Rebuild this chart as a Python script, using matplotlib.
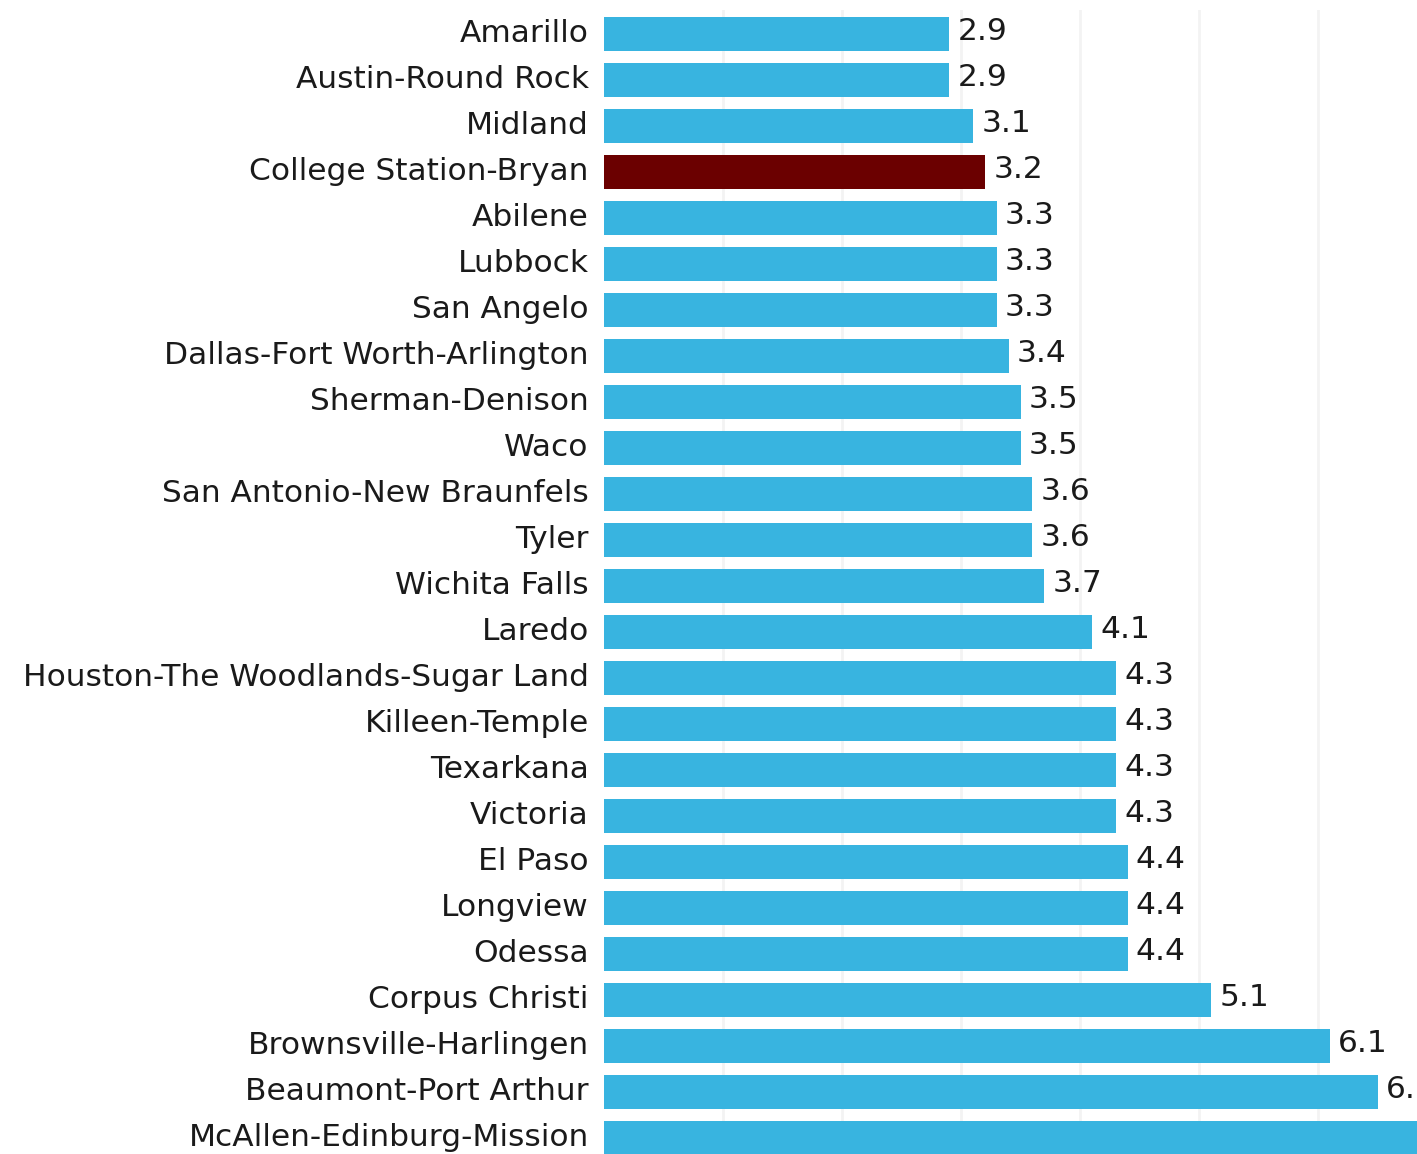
import matplotlib
matplotlib.use("Agg")
import matplotlib.pyplot as plt
import matplotlib.transforms as mtransforms

cities = ["Amarillo", "Austin-Round Rock", "Midland", "College Station-Bryan", "Abilene",
          "Lubbock", "San Angelo", "Dallas-Fort Worth-Arlington", "Sherman-Denison", "Waco",
          "San Antonio-New Braunfels", "Tyler", "Wichita Falls", "Laredo",
          "Houston-The Woodlands-Sugar Land", "Killeen-Temple", "Texarkana", "Victoria",
          "El Paso", "Longview", "Odessa", "Corpus Christi", "Brownsville-Harlingen",
          "Beaumont-Port Arthur", "McAllen-Edinburg-Mission"]
values = [2.9, 2.9, 3.1, 3.2, 3.3, 3.3, 3.3, 3.4, 3.5, 3.5, 3.6, 3.6, 3.7, 4.1,
          4.3, 4.3, 4.3, 4.3, 4.4, 4.4, 4.4, 5.1, 6.1, 6.5, 7.0]
highlight = "College Station-Bryan"

W, H = 1417, 1154
FONT = "DejaVu Sans"
FS = 22.5

fig = plt.figure(figsize=(W / 100, H / 100), dpi=100)
fig.patch.set_facecolor("white")
ax = fig.add_axes([604 / W, 0, 1 - 604 / W, (H - 10) / H])

colors = ["#6B0000" if c == highlight else "#38B4E0" for c in cities]
y = list(range(len(cities)))
ax.barh(y, values, height=0.74, color=colors, zorder=2)

xmax = (W - 604) / 119.0
ax.set_xlim(0, xmax)
ax.set_ylim((H - 34) / 46.0, (10 - 34) / 46.0)

for gx in [1, 2, 3, 4, 5, 6]:
    ax.axvline(gx, color="#f3f3f3", lw=2, zorder=1)

ax.set_yticks(y)
ax.set_yticklabels(cities, fontsize=FS, color="#1a1a1a", family=FONT)
ax.tick_params(axis="y", length=0, pad=11)
offset = mtransforms.ScaledTranslation(0, 3 / 100, fig.dpi_scale_trans)
for lab in ax.get_yticklabels():
    lab.set_transform(lab.get_transform() + offset)
ax.set_xticks([])
for s in ax.spines.values():
    s.set_visible(False)

for yi, v in zip(y, values):
    if v + 0.07 < xmax:
        ax.text(v + 0.07, yi - 0.05, f"{v:.1f}", va="center", ha="left", fontsize=FS,
                color="#1a1a1a", family=FONT, zorder=3, clip_on=False)

fig.savefig("out.png", dpi=100, facecolor="white")
